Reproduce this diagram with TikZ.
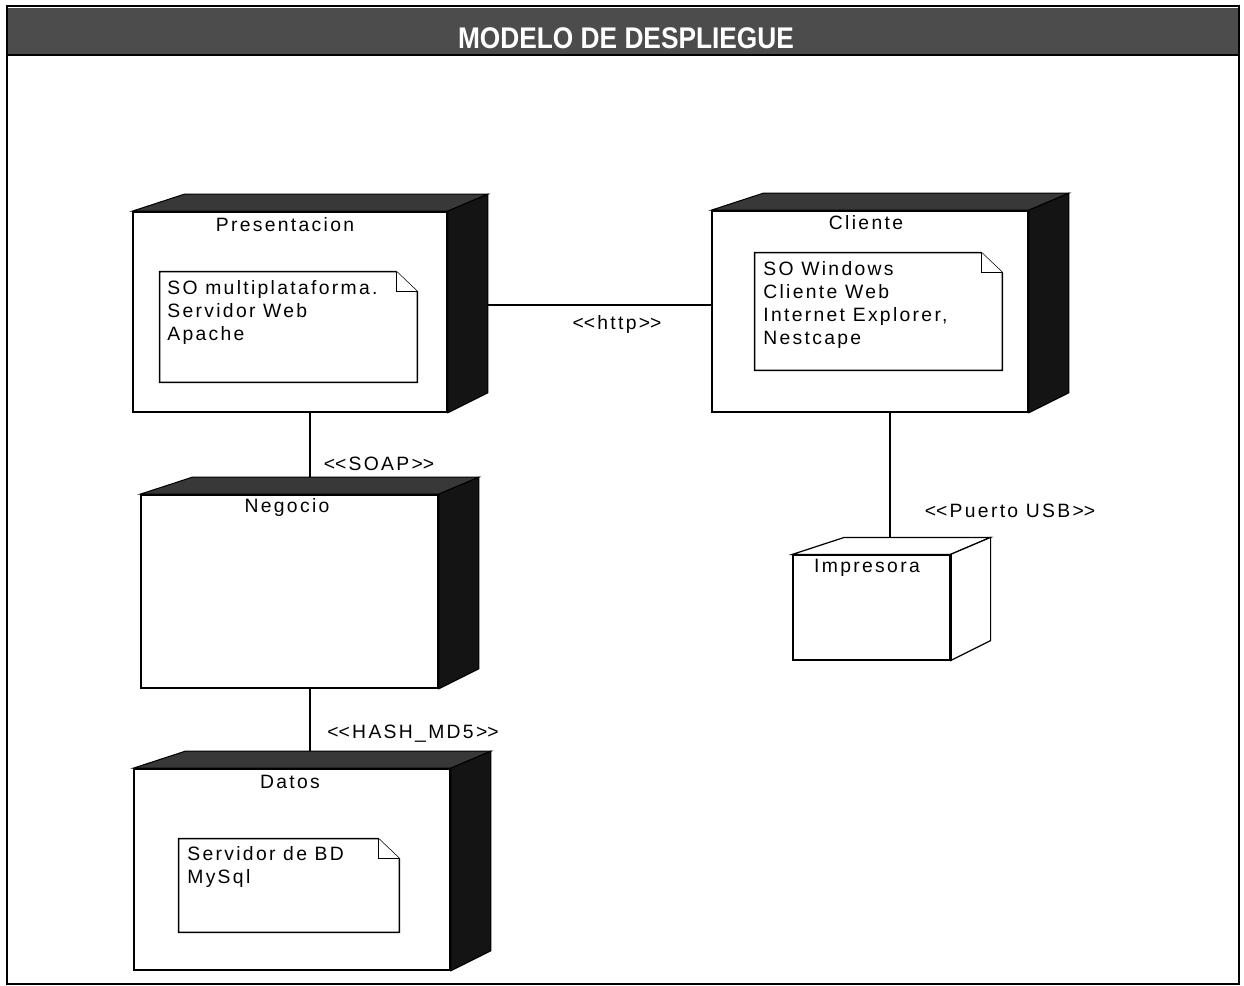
\documentclass[tikz,border=0pt]{standalone}
\usepackage{fontspec}
\setmainfont{Liberation Sans}
\newfontfamily\uifont{Liberation Sans}[LetterSpace=12]
\newfontfamily\headfont{Liberation Sans}[FakeStretch=0.88]
\usetikzlibrary{fit,backgrounds}

% guillemet-free stereotype brackets
\newcommand\stl{<\kern0pt<}
\newcommand\str{>\kern0pt>}

% front face of a deployment node, fitted to a pixel box
\newcommand\frontface[6][front]{%
  \node[#1, fit={(#3,#4)(#5,#6)}] (#2) {};}
% top and side faces of a deployment node
\newcommand\solidfaces[3]{%
  \path[#2] (#1.north west) -- ([shift={(52,-17)}]#1.north west)
    -- ([shift={(40,-17)}]#1.north east) -- (#1.north east) -- cycle;
  \path[#3] (#1.north east) -- ([shift={(40,-17)}]#1.north east)
    -- ([shift={(40,-20)}]#1.south east) -- (#1.south east) -- cycle;}
% note with folded corner
\newcommand\notebox[5]{%
  \node[inner sep=0pt, fit={(#2,#3)(#4,#5)}] (#1) {};
  \draw[notestyle] (#1.north west) -- ([shift={(-21,0)}]#1.north east)
    -- ([shift={(0,20)}]#1.north east) -- (#1.south east)
    -- (#1.south west) -- cycle;
  \draw[notestyle] ([shift={(-21,0)}]#1.north east)
    -- ([shift={(-21,20)}]#1.north east) -- ([shift={(0,20)}]#1.north east);}

\begin{document}
\begin{tikzpicture}[x=0.02cm, y=-0.02cm,
  front/.style={draw=black, line width=0.9pt, fill=white, inner sep=0pt},
  frontlight/.style={front, line width=0.7pt},
  topface/.style={fill=black!78, draw=black, line width=0.6pt},
  sideface/.style={fill=black!92, draw=black, line width=0.6pt},
  lightface/.style={fill=white, draw=black, line width=0.7pt},
  notestyle/.style={draw=black, line width=0.8pt, fill=white},
  ttl/.style={font=\uifont\fontsize{11}{13.1}\selectfont, inner sep=0pt},
  ntext/.style={font=\uifont\fontsize{11}{13.1}\selectfont, inner sep=0pt,
    align=left, anchor=north west},
  lbl/.style={font=\uifont\fontsize{11}{13.1}\selectfont, inner sep=0pt},
  link/.style={draw=black, line width=0.9pt},
  headtxt/.style={font=\headfont\bfseries\fontsize{17}{18}\selectfont,
    text=white, inner sep=0pt}
]
\useasboundingbox (0,0) rectangle (1244,986);
\begin{scope}[on background layer]
  \fill[white] (0,0) rectangle (1244,986);
\end{scope}

% frame and title band
\fill[black!70] (8,8) rectangle (1238,55);
\draw[line width=1.2pt] (8,55) -- (1238,55);
\draw[line width=1.2pt] (7,6) rectangle (1239,984);
\node[headtxt] (head) at (626,38) {MODELO DE DESPLIEGUE};

% deployment nodes (front faces)
\frontface{pres}{133}{212}{447}{412}
\frontface{cli}{712}{211}{1028}{412}
\frontface{neg}{141}{495}{438}{688}
\frontface{dat}{134}{769}{450}{970}
\frontface[frontlight]{imp}{793}{555}{950}{660}
\draw[line width=1.4pt] (imp.north east) -- (imp.south east);

% connection routing points
\coordinate (hy) at (600,305);
\coordinate (sx) at (310,450);
\coordinate (ux) at (890,480);

\begin{scope}[on background layer]
  \draw[link] (pres.east |- hy) -- (cli.west |- hy);
  \draw[link] (pres.south -| sx) -- ([shift={(0,-14)}]neg.north -| sx);
  \draw[link] (neg.south -| sx) -- ([shift={(0,-15)}]dat.north -| sx);
  \draw[link] (cli.south -| ux) -- ([shift={(0,-10)}]imp.north -| ux);
  \solidfaces{pres}{topface}{sideface}
  \solidfaces{cli}{topface}{sideface}
  \solidfaces{neg}{topface}{sideface}
  \solidfaces{dat}{topface}{sideface}
  \solidfaces{imp}{lightface}{lightface}
\end{scope}

% node titles
\node[ttl] (presT) at (285,225) {Presentacion};
\node[ttl] (cliT) at (866,223) {Cliente};
\node[ttl] (negT) at (287,508) {Negocio};
\node[ttl] (datT) at (290,782) {Datos};
\node[ttl] (impT) at (867,568) {Impresora};

% notes
\notebox{presNote}{160}{272}{417}{382}
\node[ntext] (presTxt) at (167,280) {SO multiplataforma.\\Servidor Web\\Apache};
\notebox{cliNote}{755}{253}{1002}{370}
\node[ntext] (cliTxt) at (763,261) {SO Windows\\Cliente Web\\Internet Explorer,\\Nestcape};
\notebox{datNote}{179}{839}{399}{932}
\node[ntext] (datTxt) at (187,846) {Servidor de BD\\MySql};

% connection labels
\node[lbl] (httpL) at (617,325) {\stl http\str};
\node[lbl] (soapL) at (379,464) {\stl SOAP\str};
\node[lbl] (hashL) at (413,734) {\stl HASH\_MD5\str};
\node[lbl] (usbL) at (1010,511) {\stl Puerto USB\str};
\end{tikzpicture}
\end{document}
